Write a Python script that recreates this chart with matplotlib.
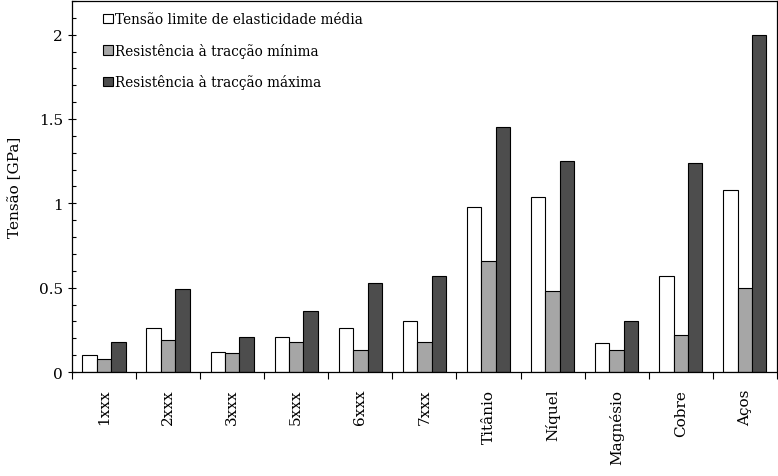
import matplotlib
matplotlib.use("Agg")
import matplotlib.pyplot as plt
from matplotlib.ticker import MultipleLocator, FixedLocator, NullFormatter
import numpy as np

# Materials and measured stresses (GPa)
categories = ["1xxx", "2xxx", "3xxx", "5xxx", "6xxx", "7xxx",
              "Titânio", "Níquel", "Magnésio", "Cobre", "Aços"]
yieldAvg = [0.10, 0.26, 0.12, 0.21, 0.26, 0.30, 0.98, 1.04, 0.17, 0.57, 1.08]
tensileMin = [0.08, 0.19, 0.11, 0.18, 0.13, 0.18, 0.66, 0.48, 0.13, 0.22, 0.50]
tensileMax = [0.18, 0.49, 0.21, 0.36, 0.53, 0.57, 1.45, 1.25, 0.30, 1.24, 2.00]
seriesLabels = ["Tensão limite de elasticidade média",
                "Resistência à tracção mínima",
                "Resistência à tracção máxima"]

plt.rcParams["font.family"] = ["DejaVu Serif"]
plt.rcParams["font.size"] = 10

fig = plt.figure(figsize=(7.78, 4.77), dpi=100)
ax = fig.add_axes([0.0925, 0.218, 0.906, 0.778])

x = np.arange(len(categories))
barWidth = 0.225
colors = ["white", "#a6a6a6", "#4d4d4d"]
for k, (vals, col, lab) in enumerate(zip([yieldAvg, tensileMin, tensileMax], colors, seriesLabels)):
    ax.bar(x + (k - 1) * barWidth, vals, barWidth, color=col, edgecolor="black",
           linewidth=0.8, label=lab, zorder=2)

# Axis limits and ticks
ax.set_xlim(-0.5, len(categories) - 0.5)
ax.set_ylim(0, 2.2)
ax.set_yticks([0, 0.5, 1, 1.5, 2])
ax.set_yticklabels(["0", "0.5", "1", "1.5", "2"])
ax.yaxis.set_minor_locator(MultipleLocator(0.1))
ax.tick_params(axis="y", which="major", direction="inout", length=6, width=0.8)
ax.tick_params(axis="y", which="minor", direction="in", length=3, width=0.8)

ax.set_xticks(x)
ax.set_xticklabels(categories, rotation=90)
ax.xaxis.set_minor_locator(FixedLocator(np.arange(-0.5, len(categories), 1.0)))
ax.xaxis.set_minor_formatter(NullFormatter())
ax.tick_params(axis="x", which="major", direction="in", length=3, width=0.8, pad=12)
ax.tick_params(axis="x", which="minor", direction="out", length=5, width=0.8)
ax.tick_params(right=False, top=False, labelsize=11)

for spine in ax.spines.values():
    spine.set_linewidth(0.9)

ax.set_ylabel("Tensão [GPa]", fontsize=11, labelpad=12)

# Legend in the upper left corner
leg = ax.legend(loc="upper left", bbox_to_anchor=(0.028, 1.0), frameon=False,
                handlelength=0.7, handleheight=0.7, handletextpad=0.15,
                labelspacing=1.2, fontsize=9.8, borderaxespad=0.45)

fig.savefig("out.png", dpi=100)
